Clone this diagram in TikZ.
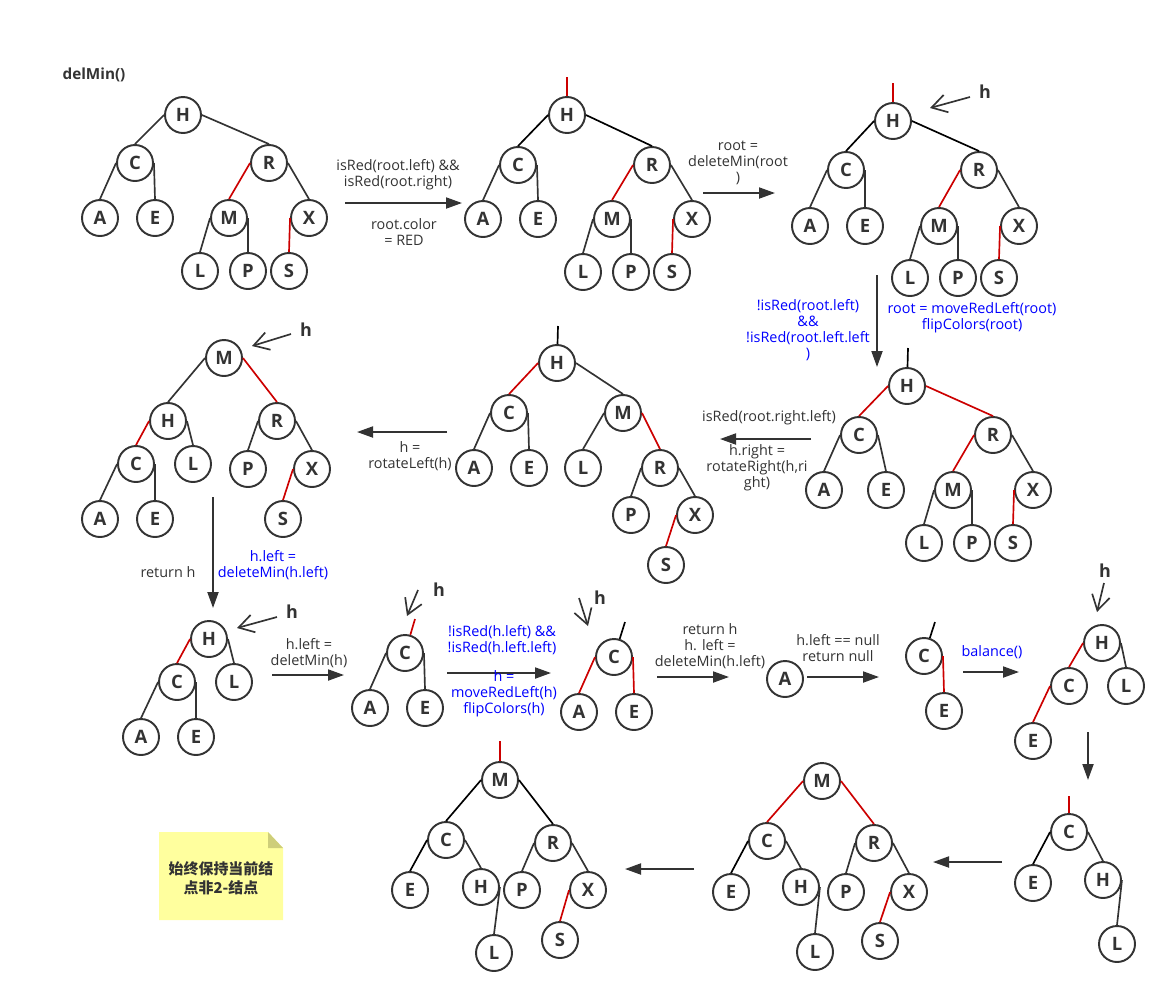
\documentclass[tikz,border=0pt]{standalone}
\usepackage{fontspec}
\setmainfont{Open Sans}
\newfontfamily\cjk{Noto Sans CJK SC}
\usetikzlibrary{arrows.meta, positioning, calc}
\definecolor{cInk}{RGB}{51,51,51}
\definecolor{cRed}{RGB}{204,0,0}
\definecolor{cBlue}{RGB}{0,0,255}
\definecolor{cNote}{RGB}{255,255,158}
\definecolor{cFold}{RGB}{206,206,122}
\tikzset{
	rbnode/.style   ={circle, draw=cInk, line width=1.1pt, minimum size=0.72cm, inner sep=0pt, fill=white, text=cInk, font=\bfseries\fontsize{10.5}{10.5}\selectfont},
	link/.style     ={line width=0.95pt, draw=cInk},
	stepArrow/.style={-{Triangle[length=0.32cm, width=0.22cm]}, line width=1.1pt, draw=cInk},
	ptr/.style      ={-{Straight Barb[length=0.3cm, width=0.36cm]}, line width=0.95pt, draw=cInk},
	hlbl/.style     ={font=\bfseries\fontsize{10.2}{10.2}\selectfont, text=cInk, inner sep=0pt},
	lbl/.style      ={font=\fontsize{8.2}{9.1}\selectfont, text=cInk, align=center, inner sep=0pt},
	blbl/.style     ={lbl, text=cBlue},
}
\begin{document}
\begin{tikzpicture}[x=0.02cm, y=-0.02cm]
	\useasboundingbox (0,0) rectangle (1176,1002);
	\node[font=\bfseries\fontsize{8.7}{8.7}\selectfont, text=cInk] (title) at (94,75) {delMin()};

	% tree 1
	\foreach \n/\x/\y in {H/183/115, C/135/163, R/269/163, A/100/218, E/155/218, M/229/218, X/309/218, L/200/271, P/248/271, S/289/271}
		\node[rbnode] (a-\n) at (\x,\y) {\n};
	\foreach \p/\s/\c/\k in {H/west/C/cInk, H/east/R/cInk, C/west/A/cInk, C/east/E/cInk, R/west/M/cRed, R/east/X/cInk, M/west/L/cInk, M/east/P/cInk, X/west/S/cRed}
		\draw[link, draw=\k] (a-\p.\s) -- (a-\c.north);

	% tree 2
	\foreach \n/\x/\y in {H/567/115, C/518/165, R/652/165, A/483/219, E/538/219, M/612/219, X/692/219, L/583/272, P/631/272, S/672/272}
		\node[rbnode] (b-\n) at (\x,\y) {\n};
	\foreach \p/\s/\c/\k in {H/west/C/black, H/east/R/black, C/west/A/cInk, C/east/E/cInk, R/west/M/cRed, R/east/X/cInk, M/west/L/cInk, M/east/P/cInk, X/west/S/cRed}
		\draw[link, draw=\k] (b-\p.\s) -- (b-\c.north);
	\coordinate (b-top) at (567,77);
	\draw[link, draw=cRed] (b-top) -- (b-H);

	% tree 3
	\foreach \n/\x/\y in {H/893/121, C/846/170, R/979/170, A/810/226, E/865/226, M/939/226, X/1019/226, L/910/278, P/958/278, S/999/278}
		\node[rbnode] (c-\n) at (\x,\y) {\n};
	\foreach \p/\s/\c/\k in {H/west/C/black, H/east/R/black, C/west/A/cInk, C/east/E/cInk, R/west/M/cRed, R/east/X/cInk, M/west/L/cInk, M/east/P/cInk, X/west/S/cRed}
		\draw[link, draw=\k] (c-\p.\s) -- (c-\c.north);
	\coordinate (c-top) at (893,83);
	\draw[link, draw=cRed] (c-top) -- (c-H);
	\coordinate (c-p1) at (970,97);
	\coordinate (c-p2) at (930,108);
	\draw[ptr] (c-p1) -- (c-p2);
	\node[hlbl] (c-h) at (985,92) {h};

	% tree 4
	\foreach \n/\x/\y in {H/907/386, C/859/435, R/993/435, A/824/490, E/886/490, M/953/490, X/1033/490, L/924/543, P/972/543, S/1013/543}
		\node[rbnode] (d-\n) at (\x,\y) {\n};
	\foreach \p/\s/\c/\k in {H/west/C/cRed, H/east/R/cRed, C/west/A/cInk, C/east/E/cInk, R/west/M/cRed, R/east/X/cInk, M/west/L/cInk, M/east/P/cInk, X/west/S/cRed}
		\draw[link, draw=\k] (d-\p.\s) -- (d-\c.north);
	\coordinate (d-top) at (908,348);
	\draw[link, draw=black] (d-top) -- (d-H);

	% tree 5
	\foreach \n/\x/\y in {H/557/363, C/509/413, M/623/413, A/474/468, E/529/468, L/583/468, R/660/468, P/631/515, X/695/515, S/666/565}
		\node[rbnode] (e-\n) at (\x,\y) {\n};
	\foreach \p/\s/\c/\k in {H/west/C/cRed, H/east/M/cInk, C/west/A/cInk, C/east/E/cInk, M/west/L/cInk, M/east/R/cRed, R/west/P/cInk, R/east/X/cInk, X/west/S/cRed}
		\draw[link, draw=\k] (e-\p.\s) -- (e-\c.north);
	\coordinate (e-top) at (558,326);
	\draw[link, draw=black] (e-top) -- (e-H);

	% tree 6
	\foreach \n/\x/\y in {M/224/358, H/168/421, R/277/421, C/136/464, L/193/464, P/248/469, X/312/469, A/100/519, E/155/519, S/283/519}
		\node[rbnode] (f-\n) at (\x,\y) {\n};
	\foreach \p/\s/\c/\k in {M/west/H/cInk, M/east/R/cRed, H/west/C/cRed, H/east/L/cInk, R/west/P/cInk, R/east/X/cInk, C/west/A/cInk, C/east/E/cInk, X/west/S/cRed}
		\draw[link, draw=\k] (f-\p.\s) -- (f-\c.north);
	\coordinate (f-p1) at (291,334);
	\coordinate (f-p2) at (252,346);
	\draw[ptr] (f-p1) -- (f-p2);
	\node[hlbl] (f-h) at (306,330) {h};

	% tree 7
	\foreach \n/\x/\y in {H/209/639, C/177/682, L/234/682, A/141/737, E/196/737}
		\node[rbnode] (g-\n) at (\x,\y) {\n};
	\foreach \p/\s/\c/\k in {H/west/C/cRed, H/east/L/cInk, C/west/A/cInk, C/east/E/cInk}
		\draw[link, draw=\k] (g-\p.\s) -- (g-\c.north);
	\coordinate (g-p1) at (277,617);
	\coordinate (g-p2) at (237,628);
	\draw[ptr] (g-p1) -- (g-p2);
	\node[hlbl] (g-h) at (292,612) {h};

	% tree 8
	\foreach \n/\x/\y in {C/405/653, A/370/708, E/425/708}
		\node[rbnode] (h-\n) at (\x,\y) {\n};
	\foreach \p/\s/\c/\k in {C/west/A/cInk, C/east/E/cInk}
		\draw[link, draw=\k] (h-\p.\s) -- (h-\c.north);
	\coordinate (h-top) at (415,619);
	\draw[link, draw=cRed] (h-top) -- (h-C);
	\coordinate (h-p1) at (418,590);
	\coordinate (h-p2) at (407,616);
	\draw[ptr] (h-p1) -- (h-p2);
	\node[hlbl] (h-h) at (439,590) {h};

	% tree 9
	\foreach \n/\x/\y in {C/614/657, A/579/712, E/634/712}
		\node[rbnode] (i-\n) at (\x,\y) {\n};
	\foreach \p/\s/\c/\k in {C/west/A/cRed, C/east/E/cRed}
		\draw[link, draw=\k] (i-\p.\s) -- (i-\c.north);
	\coordinate (i-top) at (625,622);
	\draw[link, draw=black] (i-top) -- (i-C);
	\coordinate (i-p1) at (579,598);
	\coordinate (i-p2) at (588,626);
	\draw[ptr] (i-p1) -- (i-p2);
	\node[hlbl] (i-h) at (600,598) {h};

	% single A
	\node[rbnode] (j-A) at (785,679) {A};

	% tree 10
	\node[rbnode] (k-C) at (924,656) {C};
	\node[rbnode] (k-E) at (944,711) {E};
	\draw[link, draw=cRed] (k-C.east) -- (k-E.north);
	\coordinate (k-top) at (935,622);
	\draw[link, draw=black] (k-top) -- (k-C);

	% tree 11
	\foreach \n/\x/\y in {H/1102/643, C/1069/686, L/1126/686, E/1033/741}
		\node[rbnode] (l-\n) at (\x,\y) {\n};
	\foreach \p/\s/\c/\k in {H/west/C/cRed, H/east/L/cInk, C/west/E/cRed}
		\draw[link, draw=\k] (l-\p.\s) -- (l-\c.north);
	\coordinate (l-p1) at (1104,583);
	\coordinate (l-p2) at (1097,612);
	\draw[ptr] (l-p1) -- (l-p2);
	\node[hlbl] (l-h) at (1105,571) {h};

	% tree 12
	\foreach \n/\x/\y in {C/1069/832, E/1033/883, H/1103/880, L/1117/944}
		\node[rbnode] (m-\n) at (\x,\y) {\n};
	\foreach \p/\s/\c/\k in {C/west/E/black, C/east/H/cInk, H/east/L/cInk}
		\draw[link, draw=\k] (m-\p.\s) -- (m-\c.north);
	\coordinate (m-top) at (1069,796);
	\draw[link, draw=cRed] (m-top) -- (m-C);

	% tree 13
	\foreach \n/\x/\y in {M/822/781, C/767/841, R/874/843, E/731/892, H/801/887, P/846/892, X/909/892, L/815/952, S/880/941}
		\node[rbnode] (n-\n) at (\x,\y) {\n};
	\foreach \p/\s/\c/\k in {M/west/C/cRed, M/east/R/cRed, C/west/E/black, C/east/H/cInk, R/west/P/cInk, R/east/X/cInk, H/east/L/cInk, X/west/S/cRed}
		\draw[link, draw=\k] (n-\p.\s) -- (n-\c.north);

	% tree 14
	\foreach \n/\x/\y in {M/500/780, C/446/840, R/553/843, E/410/890, H/481/887, P/522/890, X/588/890, L/494/953, S/560/940}
		\node[rbnode] (o-\n) at (\x,\y) {\n};
	\foreach \p/\s/\c/\k in {M/west/C/black, M/east/R/black, C/west/E/black, C/east/H/cInk, R/west/P/cInk, R/east/X/cInk, H/east/L/cInk, X/west/S/cRed}
		\draw[link, draw=\k] (o-\p.\s) -- (o-\c.north);
	\coordinate (o-top) at (500,741);
	\draw[link, draw=cRed] (o-top) -- (o-M);

	% steps
	\foreach \i/\xa/\ya/\xb/\yb in {1/345/203/462/203, 2/703/193/775/193, 3/877/275/877/367, 4/811/439/720/439, 5/447/432/357/432, 6/213/497/213/608, 7/272/675/344/675, 8/447/673/551/673, 9/657/677/729/677, 10/807/677/879/677, 11/963/672/1019/672, 12/1088/732/1088/780, 13/1002/862/933/862, 14/694/869/625/869}
	{
		\coordinate (s\i-a) at (\xa,\ya);
		\coordinate (s\i-b) at (\xb,\yb);
		\draw[stepArrow] (s\i-a) -- (s\i-b);
	}
	\node[lbl] (t1a) at (398,175) {isRed(root.left) \&\&\\isRed(root.right)};
	\node[lbl] (t1b) at (404,232) {root.color\\= RED};
	\node[lbl] (t2) at (738,163) {root =\\deleteMin(root\\)};
	\node[blbl] (t3a) at (808,330) {!isRed(root.left)\\\&\&\\!isRed(root.left.left\\)};
	\node[blbl] (t3b) at (972,318) {root = moveRedLeft(root)\\flipColors(root)};
	\node[lbl] (t4a) at (769,418) {isRed(root.right.left)};
	\node[lbl] (t4b) at (757,468) {h.right =\\rotateRight(h,ri\\ght)};
	\node[lbl] (t5) at (410,456) {h =\\rotateLeft(h)};
	\node[lbl] (t6a) at (168,572) {return h};
	\node[blbl] (t6b) at (273,565) {h.left =\\deleteMin(h.left)};
	\node[lbl] (t7) at (309,653) {h.left =\\deletMin(h)};
	\node[blbl] (t8a) at (502,640) {!isRed(h.left) \&\&\\!isRed(h.left.left)};
	\node[blbl] (t8b) at (504,694) {h =\\moveRedLeft(h)\\flipColors(h)};
	\node[lbl] (t9) at (710,646) {return h\\h. left =\\deleteMin(h.left)};
	\node[lbl] (t10) at (838,648) {h.left == null\\return null};
	\node[blbl] (t11) at (992,652) {balance()};

	% note
	\fill[cNote] (159,832) -- (268,832) -- (283,848) -- (283,920) -- (159,920) -- cycle;
	\fill[cFold] (268,832) -- (283,848) -- (268,848) -- cycle;
	\node[font=\cjk\bfseries\fontsize{8.5}{10.8}\selectfont, text=cInk, align=center] (note) at (221,878) {始终保持当前结\\点非2-结点};
\end{tikzpicture}
\end{document}
